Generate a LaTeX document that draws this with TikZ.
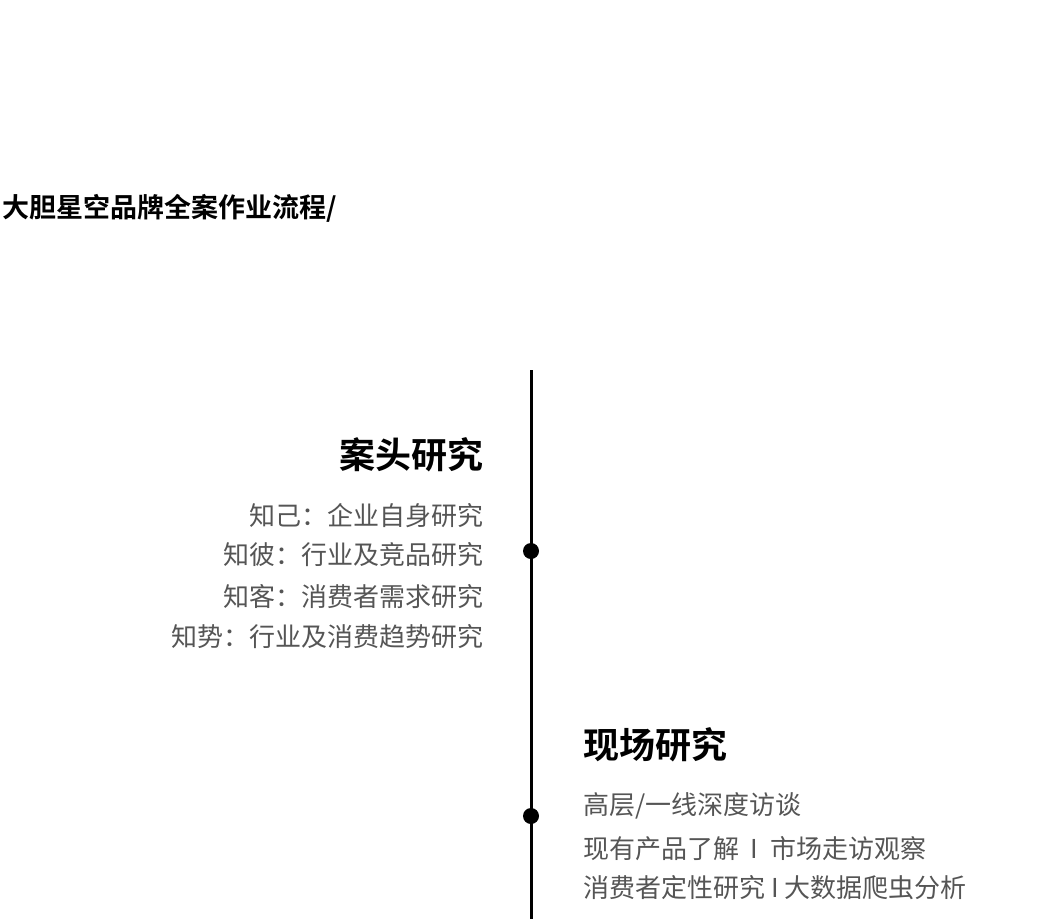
\documentclass[tikz,border=0pt]{standalone}
\usepackage{fontspec}
\setmainfont{Noto Sans CJK SC}
\newfontfamily\cjkbold{Noto Sans CJK SC Bold}
\definecolor{txtgray}{HTML}{555555}
\tikzset{
  heading/.style={font=\cjkbold\fontsize{36}{40}\selectfont, inner sep=0pt},
  item/.style={font=\fontsize{26}{30}\selectfont, text=txtgray, inner sep=0pt},
  stepdot/.style={circle, fill=black, inner sep=0pt, minimum size=16pt}
}
\begin{document}
\begin{tikzpicture}[x=1pt,y=-1pt]
  \useasboundingbox (0,0) rectangle (1063,919);
  % title
  \node[anchor=west, inner sep=0pt, font=\cjkbold\fontsize{27}{30}\selectfont] (title) at (2,208) {大胆星空品牌全案作业流程/};
  % timeline
  \coordinate (top) at (531,370);
  \coordinate (bottom) at (531,919);
  \draw[line width=3pt] (top) -- (bottom);
  \node[stepdot] (dot1) at (531,551) {};
  \node[stepdot] (dot2) at (531,816) {};
  % desk research
  \node[heading, anchor=east] (desk) at (484,455) {案头研究};
  \node[item, anchor=east] (d1) at (484,516) {知己：企业自身研究};
  \node[item, anchor=east] (d2) at (484,555) {知彼：行业及竞品研究};
  \node[item, anchor=east] (d3) at (484,597) {知客：消费者需求研究};
  \node[item, anchor=east] (d4) at (484,637) {知势：行业及消费趋势研究};
  % field research
  \node[heading, anchor=west] (field) at (583,745) {现场研究};
  \node[item, anchor=west] (f1) at (583,806) {高层/一线深度访谈};
  \node[item, anchor=west] (f2) at (583,849) {现有产品了解 \ I \ 市场走访观察};
  \node[item, anchor=west] (f3) at (583,888) {消费者定性研究 I 大数据爬虫分析};
\end{tikzpicture}
\end{document}
